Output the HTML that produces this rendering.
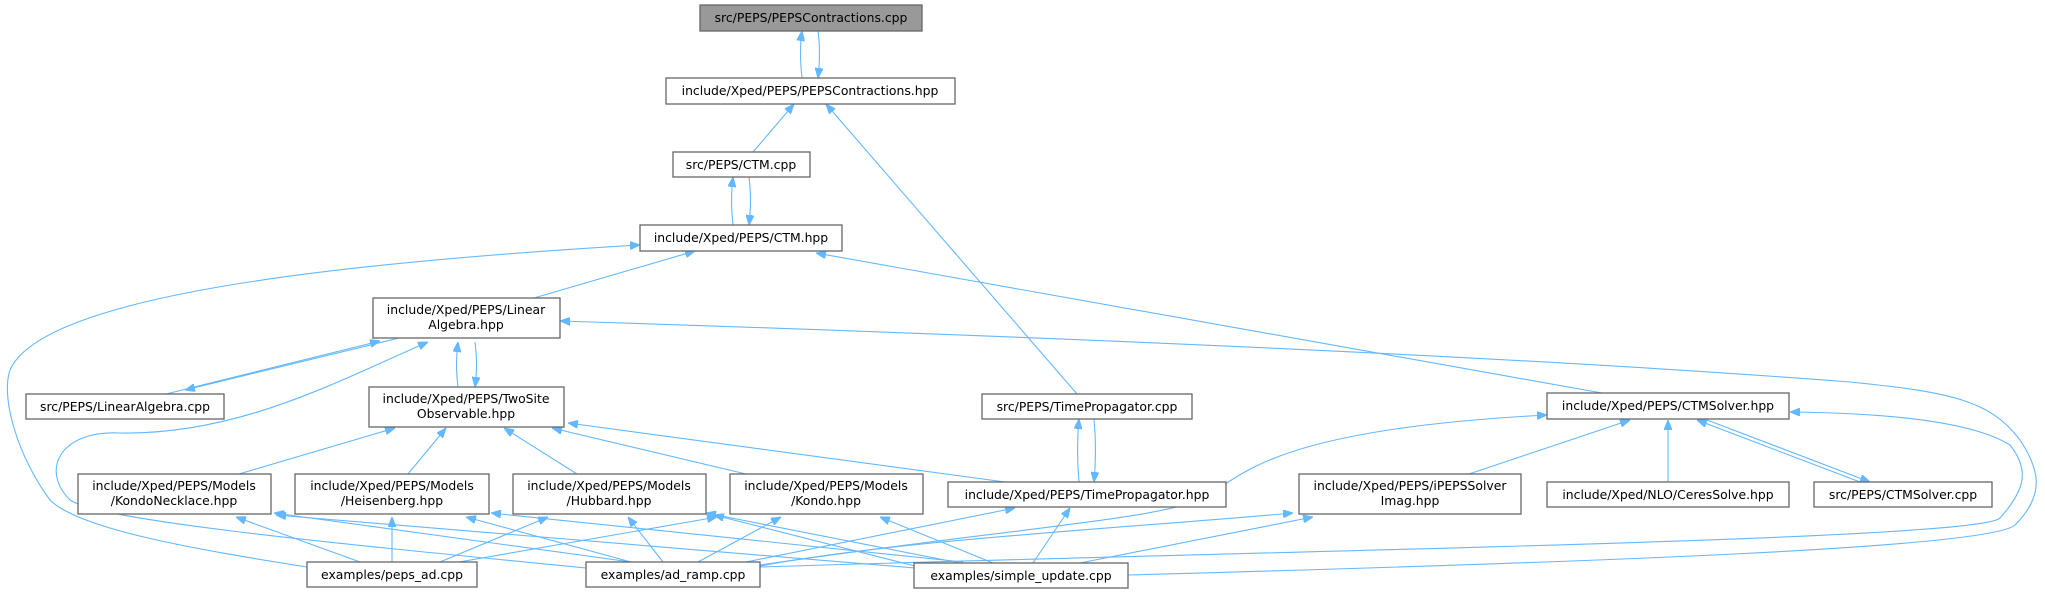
<!DOCTYPE html>
<html><head><meta charset="utf-8"><style>
html,body{margin:0;padding:0;background:#fff;}
svg{display:block;}
text{font-family:"DejaVu Sans","Liberation Sans",sans-serif;font-size:12.4px;fill:#000;text-anchor:middle;}
.n{fill:#fff;stroke:#666;stroke-width:1.3;}
.e{fill:none;stroke:#63b8ff;stroke-width:1.1;}
</style></head><body>
<svg width="2045" height="593" viewBox="0 0 2045 593" xmlns="http://www.w3.org/2000/svg">
<defs>
<marker id="a" viewBox="0 0 10 8" refX="10" refY="4" markerWidth="10" markerHeight="8" markerUnits="userSpaceOnUse" orient="auto">
<path d="M0,0 L10,4 L0,8 z" fill="#63b8ff" stroke="#63b8ff"/>
</marker>
</defs>
<g class="e" marker-end="url(#a)">
<path d="M802,78 C800,60 800,45 802,31"/>
<path d="M818,31 C820,45 820,60 818,78"/>
<path d="M753,152 L794,104"/>
<path d="M1077,394 L826,104"/>
<path d="M733,225 C731,205 731,195 733,177"/>
<path d="M749,177 C751,195 751,205 749,225"/>
<path d="M534,298 L695,251"/>
<path d="M1602,393 L816,253"/>
<path d="M307,567 C200,550 80,530 50,500 C20,460 0,400 10,370 C40,300 300,265 640,245"/>
<path d="M166,394 L380,341"/>
<path d="M399,338 L185,390"/>
<path d="M586,568 C300,540 100,520 70,500 C40,470 60,430 120,433 C240,435 340,380 428,342"/>
<path d="M458,387 C456,370 456,360 458,342"/>
<path d="M475,342 C477,360 477,370 475,387"/>
<path d="M1128,575 C1600,562 1990,548 2015,525 C2045,495 2040,470 2020,440 C1990,400 1950,392 1850,382 C1500,355 1000,335 560,321"/>
<path d="M239,474 L395,428"/>
<path d="M408,474 L446,428"/>
<path d="M577,474 L504,428"/>
<path d="M746,474 L552,428"/>
<path d="M1005,482 L568,423"/>
<path d="M1079,482 C1077,460 1077,440 1079,419"/>
<path d="M1094,419 C1096,440 1096,460 1094,482"/>
<path d="M1469,474 L1630,420"/>
<path d="M1668,482 L1668,420"/>
<path d="M1860,482 L1697,420"/>
<path d="M1707,420 L1870,482"/>
<path d="M760,565 C1000,530 1150,520 1200,500 C1240,480 1260,430 1547,415"/>
<path d="M760,567 C1300,550 1980,540 2000,518 C2025,490 2030,470 2010,445 C1970,420 1880,413 1790,412"/>
<path d="M760,566 C900,540 1100,530 1293,513"/>
<path d="M1080,563 L1313,517"/>
<path d="M1033,563 L1070,508"/>
<path d="M746,562 L1015,508"/>
<path d="M360,562 L236,517"/>
<path d="M392,562 L392,517"/>
<path d="M440,562 L548,517"/>
<path d="M459,562 L717,517"/>
<path d="M631,562 L274,513"/>
<path d="M915,568 L276,515"/>
<path d="M631,562 L466,517"/>
<path d="M963,562 L491,513"/>
<path d="M663,562 L628,517"/>
<path d="M960,563 L706,513"/>
<path d="M698,562 L781,517"/>
<path d="M993,563 L880,517"/>
<path d="M915,566 L714,515"/>
</g>
<rect x="700" y="5" width="222" height="26" fill="#999" stroke="#666" stroke-width="1.3"/>
<text x="811" y="22">src/PEPS/PEPSContractions.cpp</text>
<rect class="n" x="666" y="78" width="289" height="26"/><text x="810" y="95">include/Xped/PEPS/PEPSContractions.hpp</text>
<rect class="n" x="673" y="152" width="137" height="25"/><text x="741" y="169">src/PEPS/CTM.cpp</text>
<rect class="n" x="640" y="225" width="202" height="26"/><text x="741" y="242">include/Xped/PEPS/CTM.hpp</text>
<rect class="n" x="373" y="298" width="187" height="40"/><text x="466" y="314">include/Xped/PEPS/Linear</text><text x="466" y="329">Algebra.hpp</text>
<rect class="n" x="26" y="394" width="198" height="25"/><text x="125" y="411">src/PEPS/LinearAlgebra.cpp</text>
<rect class="n" x="369" y="387" width="195" height="40"/><text x="466" y="403">include/Xped/PEPS/TwoSite</text><text x="466" y="418">Observable.hpp</text>
<rect class="n" x="982" y="394" width="210" height="25"/><text x="1087" y="411">src/PEPS/TimePropagator.cpp</text>
<rect class="n" x="1547" y="393" width="242" height="26"/><text x="1668" y="410">include/Xped/PEPS/CTMSolver.hpp</text>
<rect class="n" x="78" y="474" width="193" height="40"/><text x="174" y="490">include/Xped/PEPS/Models</text><text x="174" y="505">/KondoNecklace.hpp</text>
<rect class="n" x="295" y="474" width="194" height="40"/><text x="392" y="490">include/Xped/PEPS/Models</text><text x="392" y="505">/Heisenberg.hpp</text>
<rect class="n" x="513" y="474" width="193" height="40"/><text x="609" y="490">include/Xped/PEPS/Models</text><text x="609" y="505">/Hubbard.hpp</text>
<rect class="n" x="730" y="474" width="193" height="40"/><text x="826" y="490">include/Xped/PEPS/Models</text><text x="826" y="505">/Kondo.hpp</text>
<rect class="n" x="948" y="482" width="278" height="25"/><text x="1087" y="499">include/Xped/PEPS/TimePropagator.hpp</text>
<rect class="n" x="1299" y="474" width="222" height="40"/><text x="1410" y="490">include/Xped/PEPS/iPEPSSolver</text><text x="1410" y="505">Imag.hpp</text>
<rect class="n" x="1547" y="482" width="242" height="25"/><text x="1668" y="499">include/Xped/NLO/CeresSolve.hpp</text>
<rect class="n" x="1814" y="482" width="178" height="25"/><text x="1903" y="499">src/PEPS/CTMSolver.cpp</text>
<rect class="n" x="307" y="562" width="170" height="25"/><text x="392" y="579">examples/peps_ad.cpp</text>
<rect class="n" x="586" y="562" width="174" height="25"/><text x="673" y="579">examples/ad_ramp.cpp</text>
<rect class="n" x="914" y="563" width="214" height="25"/><text x="1021" y="580">examples/simple_update.cpp</text>
</svg>
</body></html>
